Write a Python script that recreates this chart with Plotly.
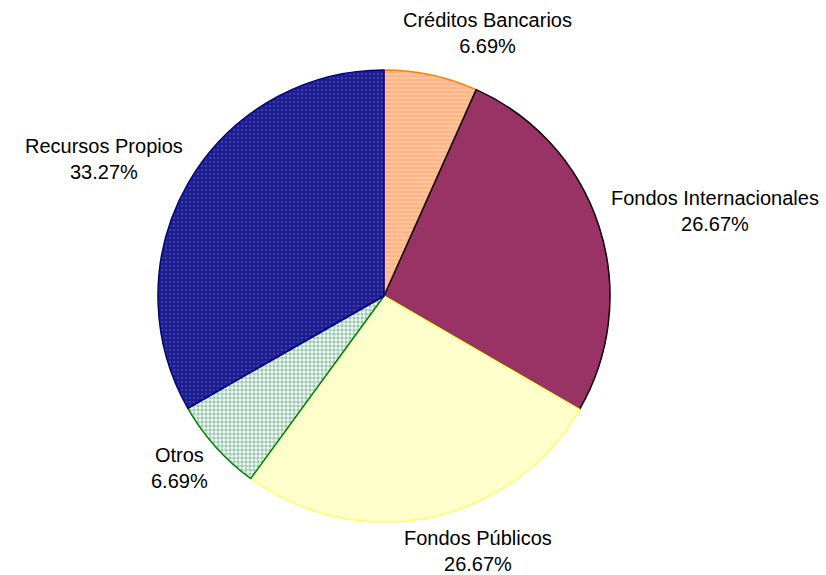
import math
import plotly.graph_objects as go

labels = ["Créditos Bancarios", "Fondos Internacionales", "Fondos Públicos", "Otros", "Recursos Propios"]
values = [6.69, 26.67, 26.67, 6.69, 33.27]

fill_colors = ["#FFB585", "#993366", "#FFFFCC", "#FFFFFF", "#1C1C8A"]
pattern_shapes = ["-", "", "", "+", "."]
pattern_fg = ["#FFCBA8", "#993366", "#FFFFCC", "#5CAF80", "#3A3AB5"]
line_colors = ["#FF8000", "#000000", "#FFFF66", "#008000", "#000080"]

W, H = 826, 575
CX, CY, R = 384, 296, 226
FONT = 20

fig = go.Figure()
fig.add_trace(go.Pie(
    labels=labels,
    values=values,
    sort=False,
    direction="clockwise",
    rotation=0,
    textinfo="none",
    hoverinfo="label+percent",
    showlegend=False,
    domain=dict(x=[(CX - R) / W, (CX + R) / W], y=[1 - (CY + R) / H, 1 - (CY - R) / H]),
    marker=dict(
        colors=fill_colors,
        line=dict(color=line_colors, width=1.5),
        pattern=dict(shape=pattern_shapes, fgcolor=pattern_fg, bgcolor=fill_colors,
                     size=4, solidity=0.35, fillmode="replace"),
    ),
))

total = sum(values)
cum = 0.0
annotations = []
for lab, v in zip(labels, values):
    mid = (cum + v / 2) / total * 2 * math.pi
    cum += v
    s, c = math.sin(mid), math.cos(mid)
    pct = v / total * 100
    text = f"{lab}<br>{pct:.2f}%"
    w = max(len(lab), 6) * 20.5 * 0.47
    h = 52
    d = R * 1.055
    ax = CX + s * d + math.copysign(abs(s) ** 0.3, s) * w / 2
    ay = CY - c * d - c * h / 2 - 4
    annotations.append(dict(
        x=ax / W, y=1 - ay / H, xref="paper", yref="paper",
        text=text, showarrow=False, xanchor="center", yanchor="middle",
        align="center", font=dict(size=FONT, color="#000000", family="Liberation Sans, Arial, sans-serif"),
    ))

fig.update_layout(
    width=W, height=H,
    margin=dict(l=0, r=0, t=0, b=0),
    paper_bgcolor="white", plot_bgcolor="white",
    annotations=annotations,
)

fig.write_html("out.html")
